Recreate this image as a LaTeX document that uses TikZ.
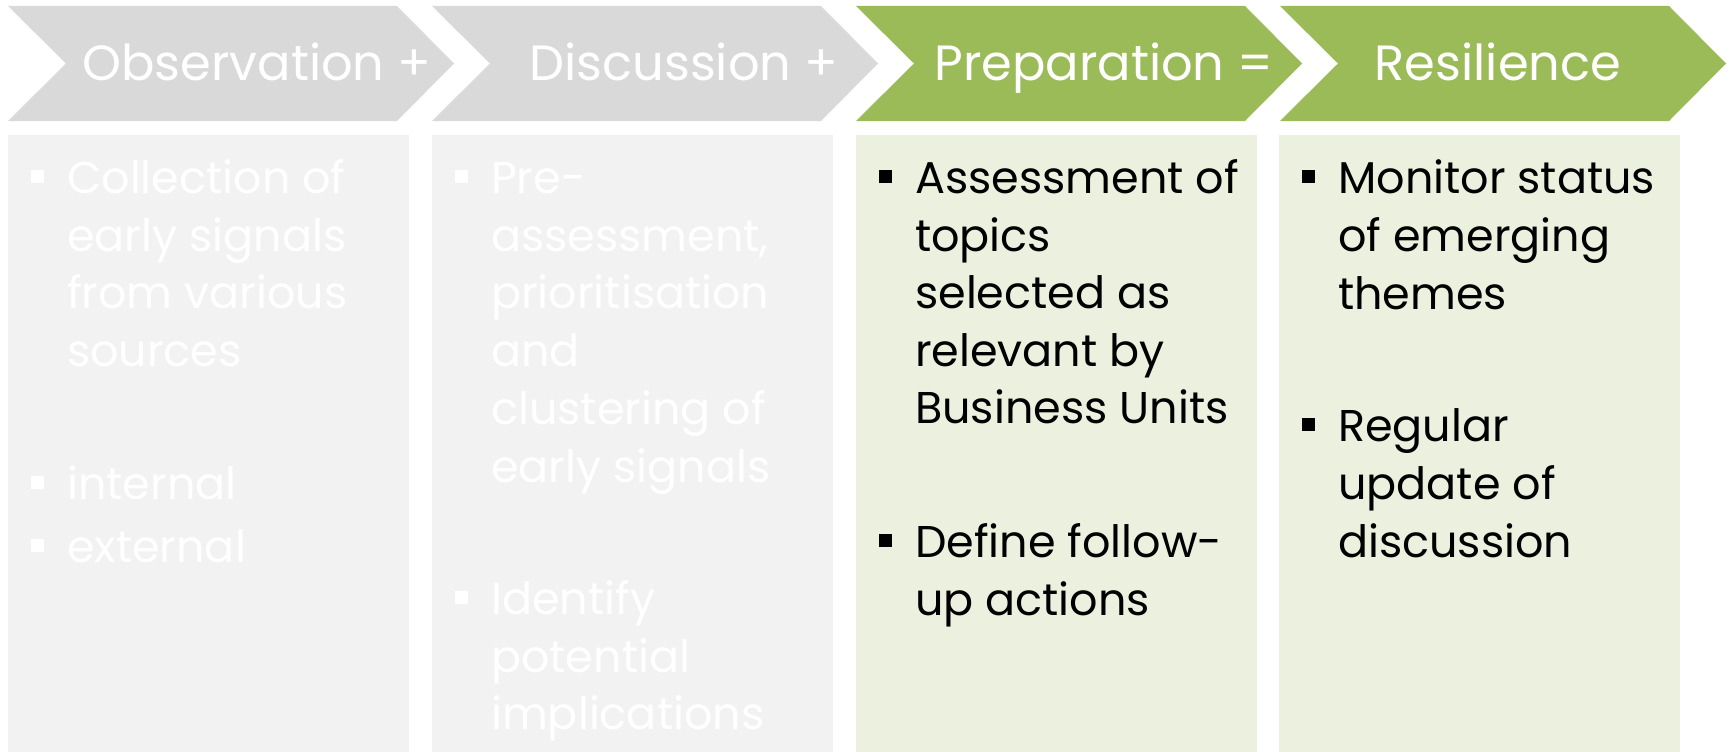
\documentclass[tikz,border=0pt]{standalone}
\usepackage{fontspec}
\setmainfont{Poppins}
\definecolor{chevgray}{HTML}{D9D9D9}
\definecolor{boxgray}{HTML}{F2F2F2}
\definecolor{chevgreen}{HTML}{9BBB59}
\definecolor{boxgreen}{HTML}{EBF1DE}
\tikzset{
  headtext/.style={anchor=base, inner sep=0pt, text=white, font=\fontsize{49.5}{55}\selectfont},
  bodyline/.style={anchor=base west, inner sep=0pt, font=\fontsize{44.5}{50}\selectfont},
  whiteline/.style={bodyline, text=white},
  blackline/.style={bodyline, text=black},
  bulletsq/.style={anchor=south west, inner sep=0pt, minimum width=13pt, minimum height=13pt, draw=none},
  whitebullet/.style={bulletsq, fill=white},
  blackbullet/.style={bulletsq, fill=black},
}
\begin{document}
\begin{tikzpicture}[x=1pt,y=-1pt]
\useasboundingbox (0,0) rectangle (1730,752);
\fill[white] (0,0) rectangle (1730,752);
% chevrons
\fill[chevgray]  (8,6) -- (397,6) -- (454,63.5) -- (397,121) -- (8,121) -- (66,63.5) -- cycle;
\fill[chevgray]  (432,6) -- (821,6) -- (878,63.5) -- (821,121) -- (432,121) -- (490,63.5) -- cycle;
\fill[chevgreen] (856,6) -- (1245,6) -- (1302,63.5) -- (1245,121) -- (856,121) -- (914,63.5) -- cycle;
\fill[chevgreen] (1280,6) -- (1669,6) -- (1726,63.5) -- (1669,121) -- (1280,121) -- (1338,63.5) -- cycle;
% boxes
\fill[boxgray]  (8,135) rectangle (409,752);
\fill[boxgray]  (432,135) rectangle (833,752);
\fill[boxgreen] (856,135) rectangle (1257,752);
\fill[boxgreen] (1279,135) rectangle (1680,752);
% headers
\node[headtext] (h1) at (257,81) {Observation +};
\node[headtext] (h2) at (684,81) {Discussion +};
\node[headtext] (h3) at (1104,81) {Preparation =};
\node[headtext] (h4) at (1498,81) {Resilience};
% column 1
\node[whitebullet] (b11) at (31,183) {};
\node[whiteline] (c1l1) at (67,193) {Collection of};
\node[whiteline] (c1l2) at (67,251) {early signals};
\node[whiteline] (c1l3) at (67,308) {from various};
\node[whiteline] (c1l4) at (67,366) {sources};
\node[whitebullet] (b12) at (31,489) {};
\node[whiteline] (c1l5) at (67,499) {internal};
\node[whitebullet] (b13) at (31,552) {};
\node[whiteline] (c1l6) at (67,562) {external};
% column 2
\node[whitebullet] (b21) at (455,183) {};
\node[whiteline] (c2l1) at (491,193) {Pre-};
\node[whiteline] (c2l2) at (491,251) {assessment,};
\node[whiteline] (c2l3) at (491,308) {prioritisation};
\node[whiteline] (c2l4) at (491,366) {and};
\node[whiteline] (c2l5) at (491,424) {clustering of};
\node[whiteline] (c2l6) at (491,482) {early signals};
\node[whitebullet] (b22) at (455,604) {};
\node[whiteline] (c2l7) at (491,614) {Identify};
\node[whiteline] (c2l8) at (491,672) {potential};
\node[whiteline] (c2l9) at (491,729) {implications};
% column 3
\node[blackbullet] (b31) at (879,183) {};
\node[blackline] (c3l1) at (915,193) {Assessment of};
\node[blackline] (c3l2) at (915,251) {topics};
\node[blackline] (c3l3) at (915,308) {selected as};
\node[blackline] (c3l4) at (915,366) {relevant by};
\node[blackline] (c3l5) at (915,423) {Business Units};
\node[blackbullet] (b32) at (879,547) {};
\node[blackline] (c3l6) at (915,557) {Define follow-};
\node[blackline] (c3l7) at (915,615) {up actions};
% column 4
\node[blackbullet] (b41) at (1302,183) {};
\node[blackline] (c4l1) at (1338,193) {Monitor status};
\node[blackline] (c4l2) at (1338,251) {of emerging};
\node[blackline] (c4l3) at (1338,309) {themes};
\node[blackbullet] (b42) at (1302,431) {};
\node[blackline] (c4l4) at (1338,441) {Regular};
\node[blackline] (c4l5) at (1338,499) {update of};
\node[blackline] (c4l6) at (1338,557) {discussion};
\end{tikzpicture}
\end{document}
